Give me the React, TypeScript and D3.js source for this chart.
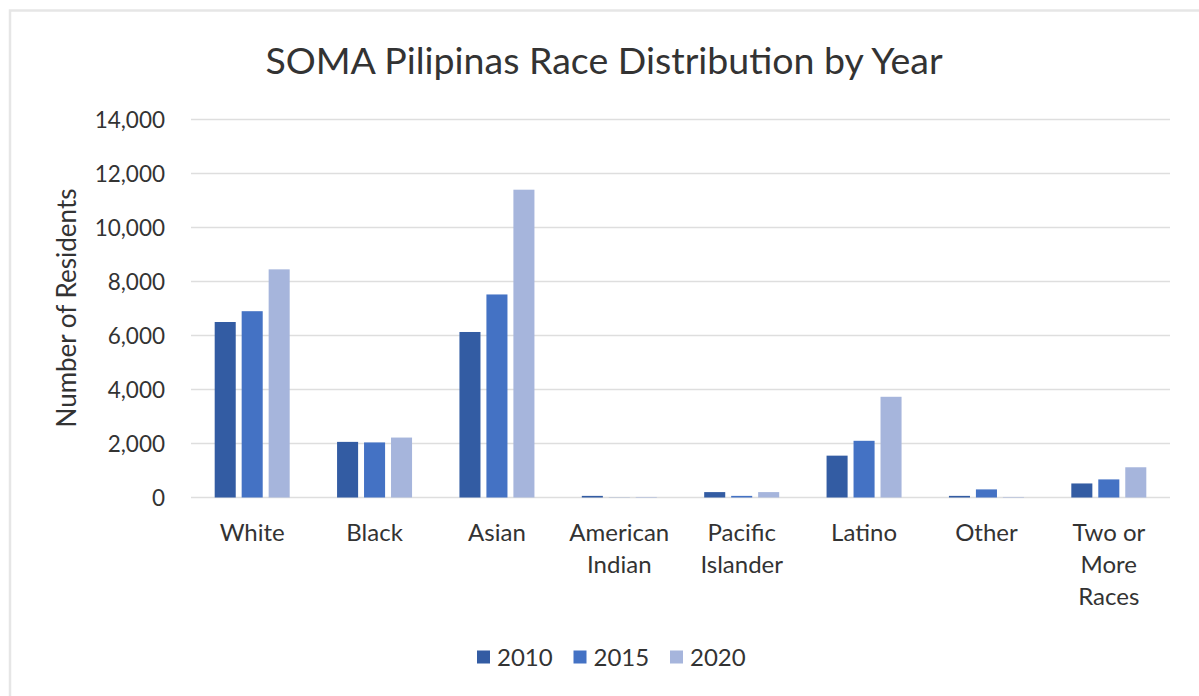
import React from "react";
import * as d3 from "d3";

const categories = ["White", "Black", "Asian", "American Indian", "Pacific Islander", "Latino", "Other", "Two or More Races"];
const categoryLines = [["White"], ["Black"], ["Asian"], ["American", "Indian"], ["Pacific", "Islander"], ["Latino"], ["Other"], ["Two or", "More", "Races"]];
const seriesNames = ["2010", "2015", "2020"];
const values2010 = [6500, 2060, 6130, 60, 200, 1550, 60, 520];
const values2015 = [6900, 2040, 7520, 5, 60, 2100, 300, 670];
const values2020 = [8450, 2220, 11400, 20, 200, 3730, 20, 1120];
const yTicks = [0, 2000, 4000, 6000, 8000, 10000, 12000, 14000];
const colors = ["#335ca3", "#4472c4", "#a6b5dc"];

const W = 1199, H = 696;
const FONT = "Lato, 'Open Sans', sans-serif";
const TEXT = "#333333";

export default function App() {
  const seriesValues = [values2010, values2015, values2020];
  const x0 = d3.scaleBand<string>().domain(categories).range([191, 1170]).padding(0);
  const groupW = 75;
  const x1 = d3.scaleBand<string>().domain(seriesNames).range([0, groupW]).paddingInner(0.22).paddingOuter(0);
  const y = d3.scaleLinear().domain([0, 14000]).range([497.5, 119.5]);
  const fmt = d3.format(",");

  return (
    <svg width={W} height={H} style={{ position: "fixed", left: 0, top: 0, background: "#fff" }} fontFamily={FONT}>
      <rect x={0} y={0} width={W} height={H} fill="#fff" />
      <rect x={10} y={10.5} width={W + 20} height={H + 20} fill="none" stroke="#e6e6e6" strokeWidth={2.5} />
      <text x={604} y={74} textAnchor="middle" fontSize={37.5} fill={TEXT}>SOMA Pilipinas Race Distribution by Year</text>
      {yTicks.map((t) => (
        <g key={t}>
          <line x1={191} x2={1170} y1={y(t)} y2={y(t)} stroke="#dedede" strokeWidth={1.6} />
          <text x={165} y={y(t) + 8} textAnchor="end" fontSize={22.5} fill={TEXT}>{fmt(t)}</text>
        </g>
      ))}
      <text transform={`translate(76,308) rotate(-90)`} textAnchor="middle" fontSize={26} fill={TEXT}>Number of Residents</text>
      {categories.map((c, ci) => {
        const cx = (x0(c) as number) + x0.bandwidth() / 2;
        const gx = cx - groupW / 2;
        return (
          <g key={c}>
            {seriesNames.map((s, si) => {
              const v = seriesValues[si][ci];
              return (
                <rect key={s} x={gx + (x1(s) as number)} y={y(v)} width={x1.bandwidth()} height={y(0) - y(v)} fill={colors[si]} />
              );
            })}
            {categoryLines[ci].map((ln, li) => (
              <text key={li} x={cx} y={541 + li * 32} textAnchor="middle" fontSize={24} fill={TEXT}>{ln}</text>
            ))}
          </g>
        );
      })}
      {seriesNames.map((s, si) => {
        const lx = 477 + si * 96.5;
        return (
          <g key={s}>
            <rect x={lx} y={650.5} width={13} height={13} fill={colors[si]} />
            <text x={lx + 20} y={665.5} fontSize={24} fill={TEXT}>{s}</text>
          </g>
        );
      })}
    </svg>
  );
}
